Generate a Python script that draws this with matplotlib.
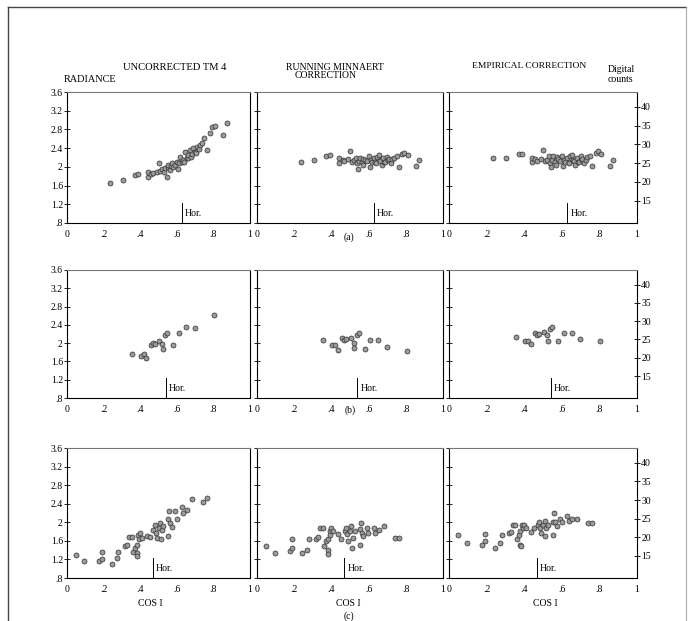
import numpy as np
import matplotlib
matplotlib.use("Agg")
import matplotlib.pyplot as plt
from matplotlib.lines import Line2D

plt.rcParams['font.family'] = ['Liberation Serif', 'DejaVu Serif']

# (a) cos i and the three versions of the radiance
cos_a = [0.235, 0.304, 0.372, 0.39, 0.44, 0.443, 0.46, 0.47, 0.49, 0.5, 0.51, 0.52, 0.53, 0.535,
         0.545, 0.55, 0.554, 0.563, 0.57, 0.572, 0.58, 0.59, 0.6, 0.608, 0.612, 0.617, 0.627, 0.636,
         0.64, 0.645, 0.654, 0.66, 0.663, 0.672, 0.68, 0.685, 0.69, 0.7, 0.705, 0.709, 0.72, 0.727,
         0.735, 0.75, 0.763, 0.78, 0.79, 0.81, 0.854, 0.873]
unc_a = [1.65, 1.71, 1.83, 1.85, 1.78, 1.88, 1.84, 1.86, 1.9, 2.09, 1.92, 1.95, 1.9, 1.97,
         1.79, 2.0, 2.04, 1.93, 2.02, 2.09, 1.99, 2.05, 2.11, 1.95, 2.08, 2.22, 2.11, 2.15,
         2.1, 2.32, 2.18, 2.2, 2.25, 2.36, 2.22, 2.28, 2.4, 2.32, 2.3, 2.43, 2.38, 2.47,
         2.5, 2.61, 2.37, 2.72, 2.86, 2.87, 2.68, 2.93]
min_a = [2.11, 2.15, 2.23, 2.25, 2.08, 2.18, 2.15, 2.13, 2.16, 2.33, 2.11, 2.14, 2.18, 2.09,
         1.95, 2.12, 2.2, 2.1, 2.04, 2.17, 2.15, 2.12, 2.23, 1.99, 2.14, 2.11, 2.18, 2.1,
         2.08, 2.22, 2.25, 2.15, 2.12, 2.04, 2.18, 2.1, 2.11, 2.22, 2.14, 2.16, 2.09, 2.16,
         2.2, 2.23, 2.0, 2.27, 2.3, 2.26, 2.02, 2.15]
emp_a = [26.3, 26.4, 27.4, 27.5, 25.2, 26.5, 26.0, 25.6, 26.2, 28.5, 25.5, 25.9, 26.8, 25.0,
         23.9, 25.7, 26.9, 25.3, 24.6, 26.6, 26.0, 25.6, 27.0, 24.2, 25.9, 25.4, 26.5, 25.2,
         25.0, 26.8, 27.2, 25.9, 25.5, 24.6, 26.3, 25.3, 25.4, 26.8, 25.7, 26.0, 25.1, 25.9,
         26.6, 27.0, 24.3, 27.6, 28.2, 27.5, 24.3, 25.9]

# (b)
cos_b = [0.355, 0.403, 0.42, 0.434, 0.458, 0.47, 0.48, 0.503, 0.52, 0.524, 0.535, 0.548, 0.578,
         0.61, 0.652, 0.697, 0.805]
unc_b = [1.77, 1.72, 1.77, 1.67, 1.96, 2.0, 1.98, 2.04, 1.99, 1.87, 2.18, 2.22, 1.96,
         2.23, 2.36, 2.33, 2.62]
min_b = [2.06, 1.95, 1.96, 1.84, 2.11, 2.07, 2.09, 2.11, 2.0, 1.89, 2.18, 2.22, 1.88,
         2.06, 2.06, 1.91, 1.83]
emp_b = [25.7, 24.5, 24.7, 23.7, 26.7, 26.1, 26.4, 27.0, 26.3, 24.7, 27.9, 28.3, 24.5,
         26.9, 26.9, 25.2, 24.7]

# (c)
cos_c = [0.049, 0.095, 0.177, 0.19, 0.19, 0.244, 0.271, 0.28, 0.317, 0.33, 0.341, 0.353, 0.362,
         0.372, 0.38, 0.38, 0.384, 0.39, 0.395, 0.399, 0.408, 0.435, 0.454, 0.472, 0.481, 0.486,
         0.49, 0.5, 0.508, 0.512, 0.517, 0.526, 0.554, 0.554, 0.559, 0.563, 0.572, 0.59, 0.599,
         0.627, 0.636, 0.654, 0.681, 0.741, 0.763]
unc_c = [1.30, 1.16, 1.16, 1.21, 1.37, 1.11, 1.23, 1.37, 1.48, 1.52, 1.68, 1.68, 1.35,
         1.45, 1.52, 1.34, 1.27, 1.73, 1.63, 1.77, 1.66, 1.71, 1.68, 1.84, 1.95, 1.77,
         1.66, 1.88, 1.98, 1.63, 1.84, 1.91, 1.70, 2.07, 2.24, 1.98, 1.90, 2.24, 2.07,
         2.33, 2.21, 2.27, 2.5, 2.43, 2.52]
min_c = [1.49, 1.34, 1.39, 1.45, 1.65, 1.33, 1.41, 1.63, 1.65, 1.68, 1.87, 1.87, 1.49,
         1.59, 1.65, 1.41, 1.32, 1.82, 1.72, 1.87, 1.81, 1.74, 1.65, 1.81, 1.87, 1.74,
         1.59, 1.81, 1.92, 1.45, 1.67, 1.81, 1.52, 1.85, 1.99, 1.77, 1.70, 1.88, 1.77,
         1.88, 1.77, 1.83, 1.92, 1.67, 1.67]
emp_c = [20.7, 18.5, 18.0, 18.9, 20.8, 17.2, 18.5, 20.7, 21.1, 21.4, 23.3, 23.4, 19.4,
         20.7, 21.7, 18.0, 17.6, 23.3, 22.4, 23.3, 22.4, 21.5, 22.4, 23.3, 24.1, 22.4,
         21.1, 23.3, 24.4, 20.2, 22.4, 23.3, 20.7, 24.1, 26.6, 24.1, 23.0, 25.0, 24.1,
         25.7, 24.4, 24.8, 24.8, 23.7, 23.7]

hor_pos = [0.63, 0.54, 0.47]
rad_ticks = [0.8, 1.2, 1.6, 2.0, 2.4, 2.8, 3.2, 3.6]
rad_labels = ['.8', '1.2', '1.6', '2', '2.4', '2.8', '3.2', '3.6']
dc_ticks = [15, 20, 25, 30, 35, 40]
x_ticks = [0, 0.2, 0.4, 0.6, 0.8, 1.0]
x_labels = ['0', '.2', '.4', '.6', '.8', '1']

rows = [(cos_a, unc_a, min_a, emp_a), (cos_b, unc_b, min_b, emp_b), (cos_c, unc_c, min_c, emp_c)]

W, H = 691, 621
fig = plt.figure(figsize=(W / 100, H / 100), dpi=100)

row_px = [(92, 223), (270, 398), (448, 578)]
col_px = [(67, 250), (257, 443), (449, 637)]

fs = 7
mk = dict(s=13, facecolor='#9a9a9a', edgecolor='#303030', linewidths=0.5, zorder=3)

for r, (cx, yu, ym, ye) in enumerate(rows):
    top, bot = row_px[r]
    for c in range(3):
        l, rr = col_px[c]
        ax = fig.add_axes([l / W, 1 - bot / H, (rr - l) / W, (bot - top) / H])
        ax.set_xlim(0, 1)
        ax.set_ylim(0.8, 3.6)
        ax.set_xticks(x_ticks)
        ax.set_xticklabels(x_labels, fontsize=fs)
        ax.set_yticks(rad_ticks)
        ax.tick_params(axis='x', length=0, pad=5)
        ax.tick_params(axis='y', direction='inout', length=4, width=0.6, labelsize=fs, pad=1)
        if c == 0:
            ax.set_yticklabels(rad_labels)
        else:
            ax.set_yticklabels([])
        for sp in ax.spines.values():
            sp.set_linewidth(0.8)
        ax.spines['top'].set_color('#777777')

        if c == 0:
            ax.scatter(cx, yu, **mk)
        elif c == 1:
            ax.scatter(cx, ym, **mk)
        else:
            ax2 = ax.twinx()
            ax2.set_ylim(9.0, 44.0)
            ax2.set_yticks(dc_ticks)
            ax2.tick_params(axis='y', direction='inout', length=4, width=0.6, labelsize=fs, pad=1)
            for sp in ax2.spines.values():
                sp.set_visible(False)
            ax2.scatter(cx, ye, **mk)

        h = hor_pos[r]
        ax.plot([h, h], [0.8, 1.23], color='black', lw=0.7)
        ax.text(h + 0.015, 0.9, 'Hor.', fontsize=fs, va='bottom', ha='left')

def ftext(x, y, s, size=fs, **kw):
    fig.text(x / W, 1 - y / H, s, fontsize=size, **kw)

ftext(175, 68, 'UNCORRECTED TM 4', size=7.6, ha='center', va='center')
ftext(64, 79, 'RADIANCE', size=7.4, ha='left', va='center')
ftext(335, 67, 'RUNNING MINNAERT', ha='center', va='center')
ftext(295, 76, 'CORRECTION', ha='left', va='center')
ftext(529, 66, 'EMPIRICAL CORRECTION', size=6.8, ha='center', va='center')
ftext(608, 69, 'Digital', ha='left', va='center')
ftext(608, 80, 'counts', ha='left', va='center')
ftext(349, 237, '(a)', ha='center', va='center')
ftext(350, 410, '(b)', ha='center', va='center')
ftext(349, 616, '(c)', ha='center', va='center')
for cxp in [150, 348, 545]:
    ftext(cxp, 604, 'COS I', ha='center', va='center')

# outer frame of the scanned page
fig.add_artist(Line2D([8 / W, 686 / W], [1 - 7 / H, 1 - 7 / H], color='#444444', lw=1.0))
fig.add_artist(Line2D([8 / W, 8 / W], [0, 1 - 7 / H], color='#444444', lw=1.0))
fig.add_artist(Line2D([686 / W, 686 / W], [0, 1 - 7 / H], color='#aaaaaa', lw=0.8))

fig.savefig('out.png', dpi=100)
